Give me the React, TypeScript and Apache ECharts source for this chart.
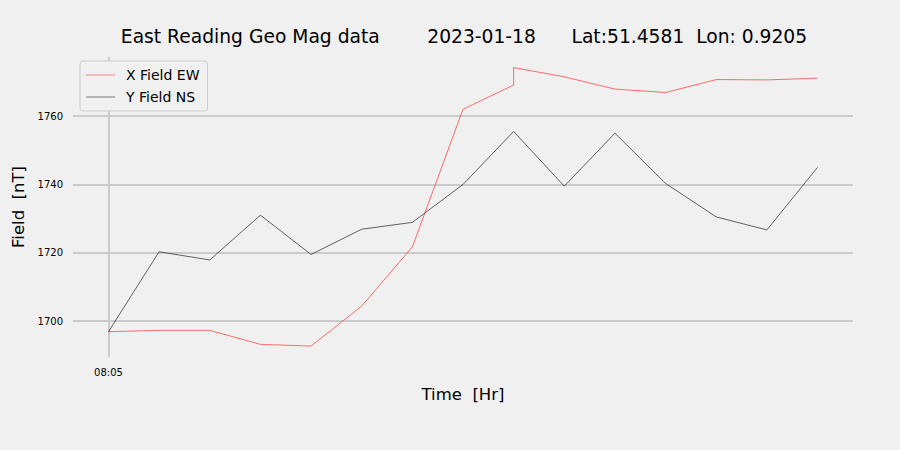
import React, { useEffect, useRef } from "react";
import * as echarts from "echarts";

// minutes after 08:05 for each sample (two samples at the same time at 80)
const minutes = [0, 10, 20, 30, 40, 50, 60, 70, 80, 80, 90, 100, 110, 120, 130, 140];
const xFieldEW = [1696.9, 1697.3, 1697.3, 1693.2, 1692.7, 1704.4, 1721.7, 1762.0, 1769.1, 1774.2, 1771.5, 1767.9, 1766.9, 1770.7, 1770.6, 1771.1];
const yFieldNS = [1696.9, 1720.3, 1717.9, 1731.0, 1719.5, 1726.9, 1728.9, 1740.0, 1755.5, 1755.5, 1739.5, 1755.0, 1740.3, 1730.5, 1726.7, 1745.0];
const yTicks = [1700, 1720, 1740, 1760];
const xTickValues = [0];
const xTickLabels = ["08:05"];
const titleText = "East Reading Geo Mag data        2023-01-18      Lat:51.4581  Lon: 0.9205";

const FONT = "DejaVu Sans";

export default function App() {
  const ref = useRef<HTMLDivElement>(null);
  useEffect(() => {
    if (!ref.current) return;
    const chart = echarts.init(ref.current, null, { renderer: "svg" });
    const pairs = (vals: number[]) => minutes.map((m, i) => [m, vals[i]]);
    chart.setOption({
      animation: false,
      backgroundColor: "#f0f0f0",
      textStyle: { fontFamily: FONT },
      title: {
        text: titleText,
        left: 459,
        textAlign: "center",
        top: 22,
        textStyle: { fontFamily: FONT, fontSize: 18.7, fontWeight: "normal", color: "#000" },
      },
      legend: {
        orient: "vertical",
        left: 80,
        top: 61,
        padding: [7, 8, 7, 6],
        itemGap: 8,
        itemWidth: 29,
        itemHeight: 10,
        backgroundColor: "#f0f0f0",
        borderColor: "#cccccc",
        borderWidth: 1,
        borderRadius: 3,
        textStyle: { fontFamily: FONT, fontSize: 14, color: "#000", padding: [0, 0, 0, 6] },
        data: [
          { name: "X Field EW", icon: "path://M0,5 L30,5 L30,5.6 L0,5.6 Z", itemStyle: { color: "#ff3030" } },
          { name: "Y Field NS", icon: "path://M0,5 L30,5 L30,5.6 L0,5.6 Z", itemStyle: { color: "#222" } },
        ],
      },
      grid: { left: 73, right: 47, top: 57, bottom: 93, containLabel: false },
      xAxis: {
        type: "value",
        min: -7,
        max: 147,
        name: "Time  [Hr]",
        nameLocation: "middle",
        nameGap: 29,
        nameTextStyle: { fontFamily: FONT, fontSize: 16.5, color: "#000" },
        axisLine: { show: false },
        axisTick: { show: false, customValues: xTickValues },
        axisLabel: {
          customValues: xTickValues,
          formatter: (v: number) => xTickLabels[xTickValues.indexOf(v)] ?? "",
          fontFamily: FONT,
          fontSize: 10,
          color: "#000",
          margin: 10,
        },
        splitLine: { show: true, lineStyle: { color: "#cbcbcb", width: 2 } },
      },
      yAxis: {
        type: "value",
        min: 1689.5,
        max: 1777.3,
        name: "Field  [nT]",
        nameLocation: "middle",
        nameGap: 44,
        nameRotate: 90,
        nameTextStyle: { fontFamily: FONT, fontSize: 16.5, color: "#000" },
        axisLine: { show: false },
        axisTick: { show: false, customValues: yTicks },
        axisLabel: {
          customValues: yTicks,
          formatter: (v: number) => String(v),
          fontFamily: FONT,
          fontSize: 10,
          color: "#000",
          margin: 10,
        },
        splitLine: { show: true, lineStyle: { color: "#cbcbcb", width: 2 } },
      },
      series: [
        {
          name: "X Field EW",
          type: "line",
          data: pairs(xFieldEW),
          showSymbol: false,
          symbol: "none",
          lineStyle: { color: "#ff3030", width: 0.7 },
          itemStyle: { color: "#ff3030" },
          z: 3,
        },
        {
          name: "Y Field NS",
          type: "line",
          data: pairs(yFieldNS),
          showSymbol: false,
          symbol: "none",
          lineStyle: { color: "#222", width: 0.7 },
          itemStyle: { color: "#222" },
          z: 3,
        },
      ],
    });
    return () => chart.dispose();
  }, []);
  return <div ref={ref} style={{ width: 900, height: 450, position: "fixed", left: 0, top: 0 }} />;
}
